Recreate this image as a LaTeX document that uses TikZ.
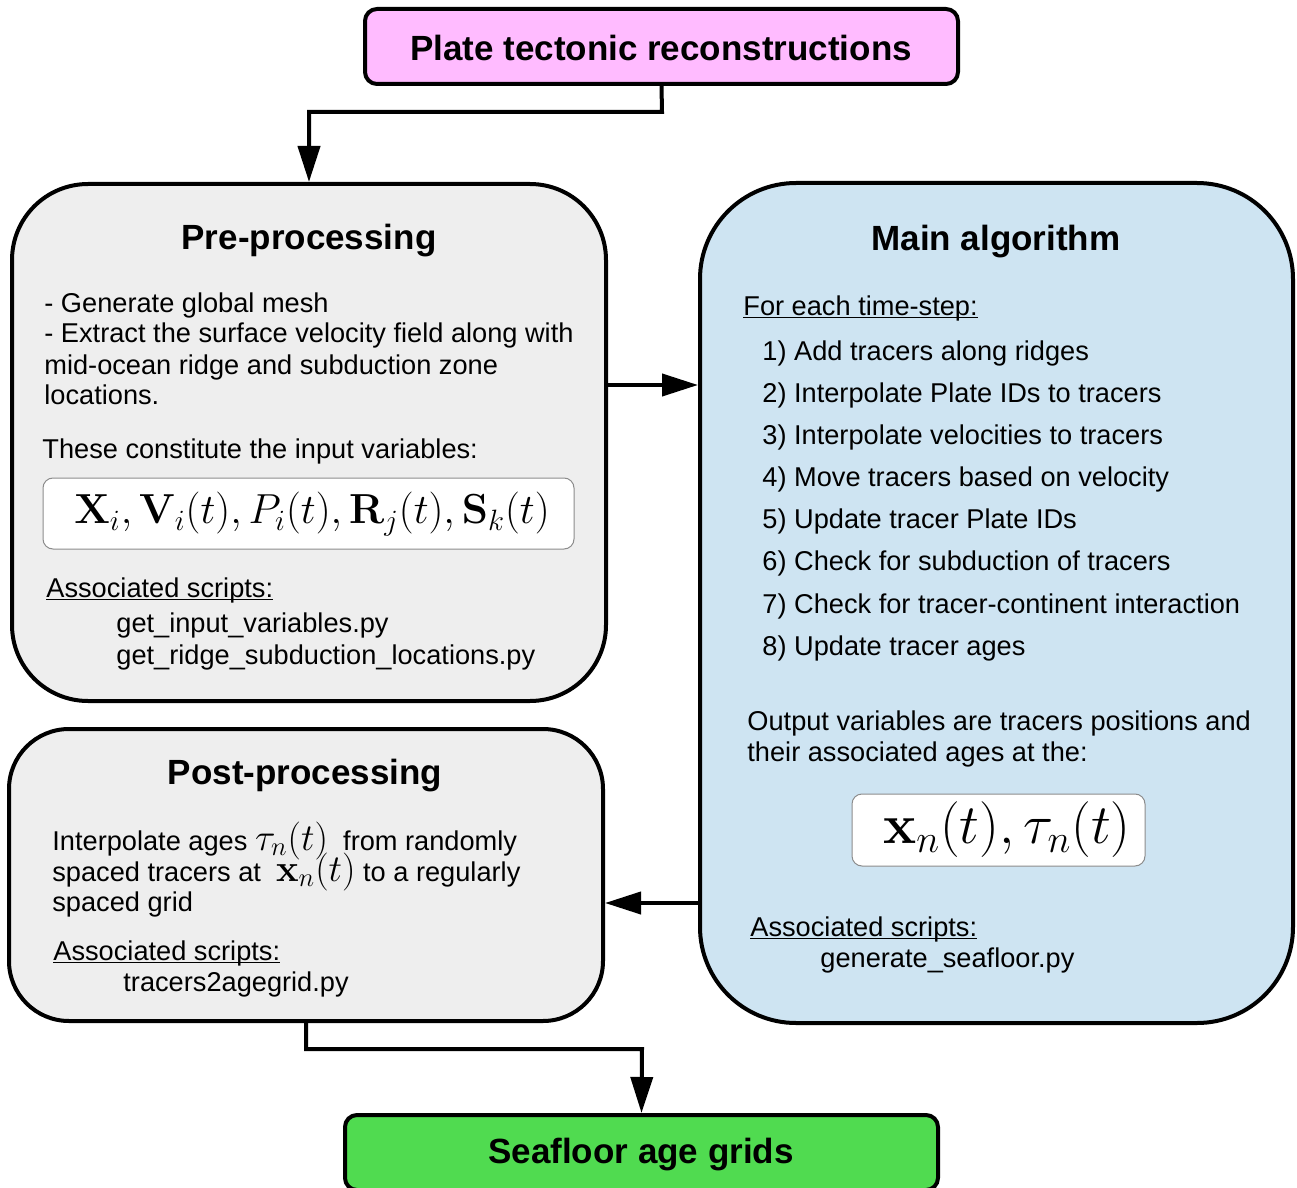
\RequirePackage{fix-cm}
\documentclass[tikz,border=0pt]{standalone}
\usepackage[no-math]{fontspec}
\setmainfont{Liberation Sans}
\usepackage{amsmath}
\usetikzlibrary{arrows.meta}
\definecolor{pinkc}{RGB}{255,187,255}
\definecolor{greyc}{RGB}{238,238,238}
\definecolor{bluec}{RGB}{206,228,242}
\definecolor{greenc}{RGB}{80,219,80}
\newcommand{\inlmath}[1]{{\fontsize{19}{16}\selectfont$#1$}}
\newcommand{\myul}[1]{\setbox0\hbox{#1}\rlap{\rule[-1.7pt]{\wd0}{0.7pt}}\box0}
\begin{document}
\begin{tikzpicture}[x=0.5pt,y=-0.5pt,
  box/.style={draw=black, line width=2pt, rectangle, inner sep=0},
  ttl/.style={font=\fontsize{17.5}{21}\selectfont\bfseries, inner sep=0},
  txt/.style={font=\fontsize{13.6}{15.5}\selectfont, anchor=base west, inner sep=0},
  mbox/.style={draw=black!45, line width=0.5pt, fill=white, rounded corners=5pt, rectangle, inner sep=0},
  arr/.style={line width=2pt, -{Triangle[length=18pt,width=11pt]}}]
\useasboundingbox (0,0) rectangle (1297,1188);

% boxes
\node[box, fill=pinkc, rounded corners=6pt, minimum width=296.5pt, minimum height=37.5pt] (plate) at (661.5,46.5) {};
\node[box, fill=greyc, rounded corners=38pt, minimum width=297pt, minimum height=258.5pt] (pre) at (309,442.5) {};
\node[box, fill=bluec, rounded corners=48pt, minimum width=296.5pt, minimum height=420pt] (main) at (996.5,603) {};
\node[box, fill=greyc, rounded corners=30pt, minimum width=297pt, minimum height=146pt] (post) at (306,875) {};
\node[box, fill=greenc, rounded corners=6pt, minimum width=296.5pt, minimum height=37.5pt] (sea) at (641.5,1152.5) {};

% titles
\node[ttl] (tplate) at (661,48) {Plate tectonic reconstructions};
\node[ttl] (tpre) at (309,241) {Pre-processing};
\node[ttl] (tmain) at (996,242) {Main algorithm};
\node[ttl] (tpost) at (305,776) {Post-processing};
\node[ttl] (tsea) at (641,1155) {Seafloor age grids};

% pre-processing text
\node[txt] (p1) at (44,312) {- Generate global mesh};
\node[txt] (p2) at (44,343) {- Extract the surface velocity field along with};
\node[txt] (p3) at (44,374) {mid-ocean ridge and subduction zone};
\node[txt] (p4) at (44,404) {locations.};
\node[txt] (p5) at (42,458) {These constitute the input variables:};
\node[mbox, minimum width=265.5pt, minimum height=35.5pt] (inbox) at (308.5,513.5) {};
\node[inner sep=0, font=\fontsize{21}{22}\selectfont] (pf) at (312,514) {$\mathbf{X}_i, \mathbf{V}_i(t), P_i(t), \mathbf{R}_j(t), \mathbf{S}_k(t)$};
\node[txt] (p6) at (46,597) {\myul{Associated scripts:}};
\node[txt] (p7) at (116,632) {get\_input\_variables.py};
\node[txt] (p8) at (116,664) {get\_ridge\_subduction\_locations.py};

% main algorithm text
\node[txt] (m0) at (743,315) {\myul{For each time-step:}};
\node[txt] (m1) at (762,360) {1) Add tracers along ridges};
\node[txt] (m2) at (762,402) {2) Interpolate Plate IDs to tracers};
\node[txt] (m3) at (762,444) {3) Interpolate velocities to tracers};
\node[txt] (m4) at (762,486) {4) Move tracers based on velocity};
\node[txt] (m5) at (762,528) {5) Update tracer Plate IDs};
\node[txt] (m6) at (762,570) {6) Check for subduction of tracers};
\node[txt] (m7) at (762,613) {7) Check for tracer-continent interaction};
\node[txt] (m8) at (762,655) {8) Update tracer ages};
\node[txt] (m9) at (747,730) {Output variables are tracers positions and};
\node[txt] (m10) at (747,761) {their associated ages at the:};
\node[mbox, minimum width=146.5pt, minimum height=36pt] (outbox) at (998.5,830) {};
\node[inner sep=0, font=\fontsize{27.9}{29}\selectfont] (of) at (1007,830) {$\mathbf{x}_n(t), \tau_n(t)$};
\node[txt] (m11) at (750,936) {\myul{Associated scripts:}};
\node[txt] (m12) at (820,967) {generate\_seafloor.py};

% post-processing text
\node[txt] (q1) at (52,850) {Interpolate ages \inlmath{\tau_n(t)}\ \ from randomly};
\node[txt] (q2) at (52,881) {spaced tracers at \ \inlmath{\mathbf{x}_n(t)}\ to a regularly};
\node[txt] (q3) at (52,911) {spaced grid};
\node[txt] (q4) at (53,960) {\myul{Associated scripts:}};
\node[txt] (q5) at (123,991) {tracers2agegrid.py};

% connectors
\coordinate (k1) at (662,112);
\coordinate (k2) at (642,1049);
\coordinate (ya) at (0,385);
\coordinate (yb) at (0,903);
\draw[arr] (plate.south) -- (k1) -| (pre.north);
\draw[arr] (pre.east |- ya) -- (main.west |- ya);
\draw[arr] (main.west |- yb) -- (post.east |- yb);
\draw[arr] (post.south) |- (k2) -- (sea.north);
\end{tikzpicture}
\end{document}
